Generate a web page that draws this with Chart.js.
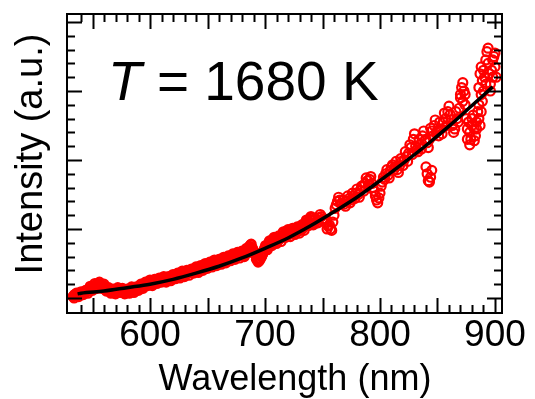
<!DOCTYPE html>
<html><head><meta charset="utf-8">
<script src="https://cdn.jsdelivr.net/npm/chart.js@4.4.1/dist/chart.umd.min.js"></script>
<style>html,body{margin:0;padding:0;background:#fff;}#wrap{width:535px;height:399px;}</style>
</head><body><div id="wrap"><canvas id="c" width="535" height="399"></canvas></div>
<script>
// Measured spectrum (arbitrary units), odd-nm samples
const wavelength = [533,535,537,539,541,543,545,547,549,551,553,555,557,559,561,563,565,567,569,571,573,575,577,579,581,583,585,587,589,591,593,595,597,599,601,603,605,607,609,611,613,615,617,619,621,623,625,627,629,631,633,635,637,639,641,643,645,647,649,651,653,655,657,659,661,663,665,667,669,671,673,675,677,679,681,683,685,687,689,691,693,695,697,699,701,703,705,707,709,711,713,715,717,719,721,723,725,727,729,731,733,735,737,739,741,743,745,747,749,751,753,755,757,759,761,763,765,767,769,771,773,775,777,779,781,783,785,787,789,791,793,795,797,799,801,803,805,807,809,811,813,815,817,819,821,823,825,827,829,831,833,835,837,839,840,841,842,843,844,845,841,843,845,847,849,851,853,855,857,859,861,863,865,867,869,870,871,872,873,874,875,876,877,878,879,880,881,882,883,884,885,886,887,888,889,886,887,888,889,890,891,892,893,894,895,896,897,898,899,900,901];
const intensity = [0.02,0.04,0.05,0.06,0.07,0.08,0.09,0.12,0.14,0.16,0.18,0.19,0.18,0.17,0.15,0.13,0.11,0.10,0.10,0.11,0.12,0.11,0.10,0.09,0.10,0.12,0.11,0.12,0.14,0.16,0.17,0.19,0.21,0.22,0.21,0.23,0.25,0.24,0.26,0.28,0.27,0.26,0.28,0.30,0.32,0.31,0.33,0.35,0.34,0.36,0.38,0.37,0.39,0.41,0.40,0.42,0.44,0.45,0.47,0.46,0.48,0.50,0.51,0.50,0.52,0.53,0.55,0.56,0.57,0.59,0.60,0.61,0.63,0.62,0.64,0.64,0.70,0.74,0.72,0.66,0.58,0.54,0.60,0.68,0.74,0.78,0.80,0.82,0.84,0.83,0.86,0.90,0.93,0.95,0.94,0.96,0.98,0.97,0.99,1.00,1.02,1.06,1.10,1.14,1.12,1.08,1.12,1.16,1.18,1.15,1.10,1.04,1.00,1.10,1.30,1.40,1.42,1.38,1.36,1.40,1.44,1.42,1.48,1.52,1.50,1.56,1.62,1.66,1.70,1.72,1.66,1.55,1.42,1.45,1.62,1.75,1.80,1.78,1.85,1.93,1.90,1.86,1.92,1.98,2.00,2.05,2.10,2.18,2.30,2.20,2.12,2.22,2.35,2.28,1.90,1.80,1.70,1.68,1.75,1.85,2.25,2.30,2.42,2.50,2.40,2.35,2.45,2.55,2.60,2.70,2.66,2.50,2.45,2.60,2.75,2.90,3.05,3.12,3.00,2.80,2.60,2.45,2.55,2.40,2.30,2.50,2.65,2.45,2.35,2.55,2.70,2.60,2.50,2.70,2.85,3.05,3.25,3.35,3.15,3.00,3.20,3.45,3.57,3.40,3.25,3.10,3.30,3.45,3.50,3.35,3.20];
// Measured spectrum, even-nm samples
const wavelengthEven = [534,536,538,540,542,544,546,548,550,552,554,556,558,560,562,564,566,568,570,572,574,576,578,580,582,584,586,588,590,592,594,596,598,600,602,604,606,608,610,612,614,616,618,620,622,624,626,628,630,632,634,636,638,640,642,644,646,648,650,652,654,656,658,660,662,664,666,668,670,672,674,676,678,680,682,684,686,688,690,692,694,696,698,700,702,704,706,708,710,712,714,716,718,720,722,724,726,728,730,732,734,736,738,740,742,744,746,748,750,752,754,756,758,760,762,764,766,768,770,772,774,776,778,780,782,784,786,788,790,792,794,796,798,800,802,804,806,808,810,812,814,816,818,820,822,824,826,828,830,832,834,836,838,840,842,844,846,848,850,852,854,856,858,860,862,864,866,868,870,872,874,876,878,880,882,884,886,888,890,892,894,896,898,900];
const intensityEven = [0.00,0.07,0.02,0.09,0.05,0.11,0.07,0.17,0.11,0.21,0.14,0.23,0.14,0.20,0.10,0.15,0.07,0.13,0.06,0.15,0.08,0.14,0.06,0.13,0.07,0.16,0.08,0.16,0.11,0.20,0.14,0.23,0.18,0.26,0.18,0.27,0.21,0.29,0.23,0.31,0.23,0.31,0.25,0.34,0.28,0.36,0.29,0.39,0.31,0.40,0.33,0.42,0.36,0.45,0.37,0.47,0.40,0.50,0.43,0.52,0.45,0.55,0.47,0.56,0.49,0.59,0.51,0.61,0.54,0.64,0.56,0.66,0.58,0.68,0.60,0.72,0.66,0.78,0.68,0.62,0.52,0.57,0.64,0.73,0.70,0.83,0.76,0.88,0.79,0.90,0.82,0.96,0.88,0.99,0.89,1.01,0.92,1.03,0.94,1.06,0.98,1.13,1.05,1.18,1.06,1.15,1.09,1.21,1.12,1.13,1.00,1.06,0.98,1.20,1.35,1.46,1.36,1.42,1.33,1.48,1.38,1.52,1.44,1.58,1.46,1.62,1.55,1.74,1.64,1.76,1.60,1.48,1.38,1.52,1.68,1.72,1.86,1.74,1.90,1.86,1.98,1.82,2.02,1.92,2.12,1.98,2.22,2.08,2.38,2.15,2.30,2.16,2.42,2.30,2.18,2.46,2.35,2.58,2.42,2.55,2.38,2.68,2.50,2.78,2.58,2.40,2.70,2.55,2.95,2.85,2.95,2.30,2.22,2.60,2.28,2.45,2.80,2.95,3.30,3.10,3.62,3.00,3.20,3.55];
// Measured spectrum, half-nm samples (dense short-wavelength part)
const wavelengthHalf = [533.5,534.5,535.5,536.5,537.5,538.5,539.5,540.5,541.5,542.5,543.5,544.5,545.5,546.5,547.5,548.5,549.5,550.5,551.5,552.5,553.5,554.5,555.5,556.5,557.5,558.5,559.5,560.5,561.5,562.5,563.5,564.5,565.5,566.5,567.5,568.5,569.5,570.5,571.5,572.5,573.5,574.5,575.5,576.5,577.5,578.5,579.5,580.5,581.5,582.5,583.5,584.5,585.5,586.5,587.5,588.5,589.5,590.5,591.5,592.5,593.5,594.5,595.5,596.5,597.5,598.5,599.5,600.5,601.5,602.5,603.5,604.5,605.5,606.5,607.5,608.5,609.5,610.5,611.5,612.5,613.5,614.5,615.5,616.5,617.5,618.5,619.5,620.5,621.5,622.5,623.5,624.5,625.5,626.5,627.5,628.5,629.5,630.5,631.5,632.5,633.5,634.5,635.5,636.5,637.5,638.5,639.5,640.5,641.5,642.5,643.5,644.5,645.5,646.5,647.5,648.5,649.5,650.5,651.5,652.5,653.5,654.5,655.5,656.5,657.5,658.5,659.5,660.5,661.5,662.5,663.5,664.5,665.5,666.5,667.5,668.5,669.5,670.5,671.5,672.5,673.5,674.5,675.5,676.5,677.5,678.5,679.5,680.5,681.5,682.5,683.5,684.5,685.5,686.5,687.5,688.5,689.5,690.5,691.5,692.5,693.5,694.5,695.5,696.5,697.5,698.5,699.5,700.5,701.5,702.5,703.5,704.5,705.5,706.5,707.5,708.5,709.5,710.5,711.5,712.5,713.5,714.5,715.5,716.5,717.5,718.5,719.5,720.5,721.5,722.5,723.5,724.5,725.5,726.5,727.5,728.5,729.5,730.5,731.5,732.5,733.5,734.5,735.5,736.5,737.5,738.5,739.5];
const intensityHalf = [0.03,0.05,0.05,0.04,0.06,0.05,0.08,0.06,0.08,0.09,0.10,0.09,0.10,0.12,0.14,0.15,0.13,0.16,0.18,0.19,0.17,0.20,0.21,0.19,0.16,0.17,0.18,0.16,0.12,0.13,0.14,0.12,0.09,0.10,0.12,0.11,0.08,0.10,0.13,0.13,0.10,0.11,0.13,0.12,0.08,0.08,0.11,0.11,0.09,0.10,0.14,0.13,0.10,0.11,0.14,0.15,0.12,0.14,0.18,0.18,0.15,0.17,0.21,0.22,0.19,0.20,0.24,0.23,0.20,0.22,0.25,0.24,0.23,0.24,0.27,0.26,0.24,0.27,0.30,0.28,0.25,0.26,0.29,0.28,0.27,0.29,0.32,0.31,0.30,0.33,0.34,0.33,0.31,0.34,0.37,0.35,0.33,0.35,0.38,0.37,0.36,0.39,0.40,0.38,0.38,0.41,0.43,0.41,0.39,0.43,0.45,0.44,0.42,0.46,0.48,0.46,0.45,0.47,0.49,0.48,0.47,0.50,0.53,0.51,0.49,0.53,0.54,0.52,0.51,0.55,0.57,0.55,0.53,0.57,0.59,0.57,0.56,0.60,0.62,0.60,0.58,0.62,0.64,0.62,0.61,0.64,0.66,0.64,0.62,0.67,0.69,0.70,0.69,0.75,0.77,0.73,0.70,0.66,0.64,0.56,0.55,0.54,0.57,0.60,0.62,0.67,0.71,0.76,0.72,0.75,0.81,0.79,0.78,0.85,0.83,0.81,0.86,0.82,0.85,0.88,0.86,0.88,0.94,0.91,0.91,0.97,0.93,0.92,0.97,0.93,0.95,1.00,0.95,0.96,1.01,0.98,0.97,1.03,1.01,1.00,1.07,1.04,1.05,1.12,1.09,1.08,1.16];
// Fitted curve (T = 1680 K)
const fitWavelength = [537,540,560,580,600,620,640,660,680,700,720,740,760,780,800,820,840,860,880,898];
const fitIntensity = [0.06,0.07,0.10,0.15,0.20,0.27,0.36,0.46,0.58,0.72,0.87,1.05,1.25,1.46,1.70,1.95,2.21,2.49,2.79,3.06];
// Axis ticks
const xTickLabels = [600,700,800,900];
const xMinorTicks = [540,550,560,570,580,590,600,610,620,630,640,650,660,670,680,690,700,710,720,730,740,750,760,770,780,790,800,810,820,830,840,850,860,870,880,890,900];
const xMajorTicks = [550,600,650,700,750,800,850,900];
const yMinorTicks = [0,0.2,0.4,0.6,0.8,1,1.2,1.4,1.6,1.8,2,2.2,2.4,2.6,2.8,3,3.2,3.4,3.6,3.8,4];
const yMajorTicks = [0,1,2,3,4];

const FONT = '"Liberation Sans", Arial, sans-serif';

const framePlugin = {
  id: 'frame',
  afterDraw(chart) {
    const ctx = chart.ctx, a = chart.chartArea;
    const xs = chart.scales.x, ys = chart.scales.y;
    ctx.save();
    ctx.strokeStyle = '#000';
    ctx.lineWidth = 2;
    ctx.lineCap = 'butt';
    ctx.beginPath();
    xMinorTicks.forEach(v => {
      const p = Math.round(xs.getPixelForValue(v)) + 0.5;
      const L = xMajorTicks.includes(v) ? 15 : 8;
      ctx.moveTo(p, a.bottom); ctx.lineTo(p, a.bottom - L);
      ctx.moveTo(p, a.top); ctx.lineTo(p, a.top + L);
    });
    yMinorTicks.forEach(v => {
      const p = Math.round(ys.getPixelForValue(v)) + 0.5;
      const L = yMajorTicks.includes(v) ? 15 : 8;
      ctx.moveTo(a.left, p); ctx.lineTo(a.left + L, p);
      ctx.moveTo(a.right, p); ctx.lineTo(a.right - L, p);
    });
    ctx.stroke();
    ctx.strokeRect(a.left, a.top, a.right - a.left, a.bottom - a.top);
    // annotation
    ctx.fillStyle = '#000';
    ctx.textBaseline = 'alphabetic';
    ctx.textAlign = 'left';
    ctx.font = 'italic 55px ' + FONT;
    const tx = 108, ty = 100;
    ctx.fillText('T', tx, ty);
    const w = ctx.measureText('T').width;
    ctx.font = '55px ' + FONT;
    ctx.fillText(' = 1680 K', tx + w, ty);
    // axis titles
    ctx.font = '36px ' + FONT;
    ctx.textAlign = 'center';
    ctx.fillText('Wavelength (nm)', 295, 390);
    ctx.save();
    ctx.translate(42, 154);
    ctx.rotate(-Math.PI / 2);
    ctx.font = '38px ' + FONT;
    ctx.fillText('Intensity (a.u.)', 0, 0);
    ctx.restore();
    ctx.restore();
  }
};

const points = wavelength.map((x, i) => ({x, y: intensity[i]}))
  .concat(wavelengthEven.map((x, i) => ({x, y: intensityEven[i]})))
  .concat(wavelengthHalf.map((x, i) => ({x, y: intensityHalf[i]})));

new Chart(document.getElementById('c'), {
  type: 'scatter',
  data: {
    datasets: [
      {
        label: 'Fit',
        data: fitWavelength.map((x, i) => ({x, y: fitIntensity[i]})),
        showLine: true,
        borderColor: '#000',
        borderWidth: 3.5,
        pointRadius: 0,
        cubicInterpolationMode: 'monotone',
        order: 0
      },
      {
        label: 'Data',
        data: points,
        showLine: false,
        pointStyle: 'circle',
        pointRadius: 4.5,
        pointBorderWidth: 2.2,
        pointBorderColor: '#ff0000',
        pointBackgroundColor: 'rgba(0,0,0,0)',
        order: 1
      }
    ]
  },
  options: {
    responsive: false,
    animation: false,
    devicePixelRatio: 1,
    layout: { padding: { left: 67, top: 14, right: 33, bottom: 0 } },
    plugins: { legend: { display: false }, tooltip: { enabled: false } },
    scales: {
      x: {
        type: 'linear',
        min: 527.8,
        max: 906.1,
        afterBuildTicks: s => { s.ticks = xTickLabels.map(v => ({ value: v })); },
        afterFit: s => { s.height = 86; },
        ticks: { color: '#000', font: { family: FONT, size: 37 }, padding: 1, maxRotation: 0, autoSkip: false },
        grid: { display: false, drawTicks: false },
        border: { display: false }
      },
      y: {
        display: false,
        min: -0.2174,
        max: 4.116
      }
    }
  },
  plugins: [framePlugin]
});
</script></body></html>
